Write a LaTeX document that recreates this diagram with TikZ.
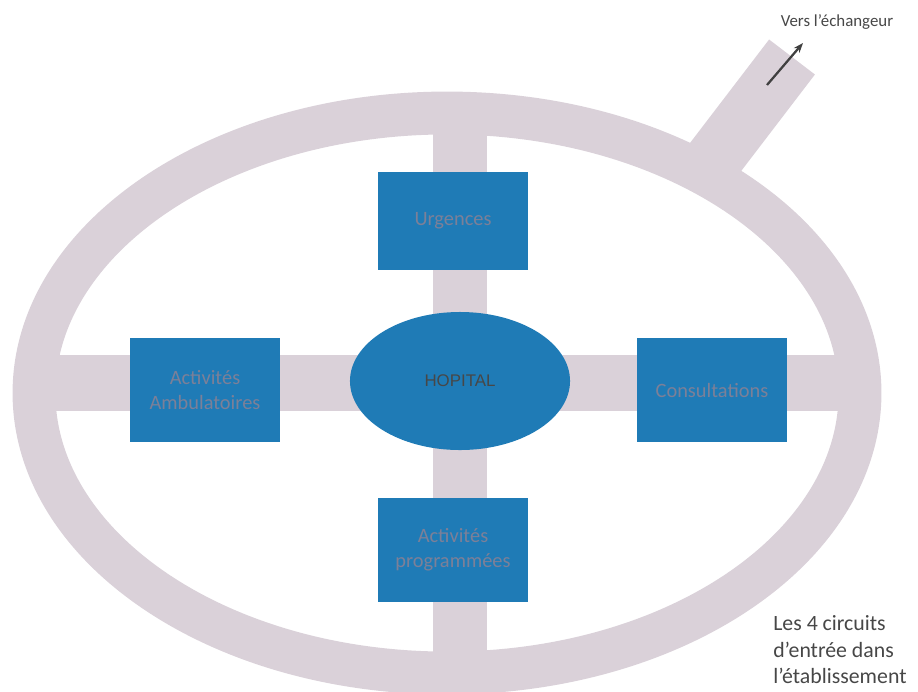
\documentclass[tikz,border=0pt]{standalone}
\usepackage{fontspec}
\setmainfont{Carlito}
\newfontfamily\hopfont{Liberation Sans}
\usetikzlibrary{shapes.geometric, positioning, arrows.meta}
\definecolor{route}{HTML}{DAD1D9}
\definecolor{bleu}{HTML}{1F7BB6}
\definecolor{texteboite}{HTML}{7C8098}
\definecolor{gristexte}{HTML}{474747}
\tikzset{
    chemin/.style={draw=route, line width=#1},
    boite/.style={rectangle, fill=bleu, text=texteboite, align=center,
        minimum width=3.75cm, minimum height=2.6cm, font=\fontsize{14.5}{18}\selectfont},
}

\begin{document}
\begin{tikzpicture}[x=0.025cm, y=-0.025cm]
        \useasboundingbox (0,0) rectangle (918,691);

        % Anneau
        \draw[chemin=30.5pt] (447,393) ellipse [x radius=413, y radius=280];

        % Sortie vers l'echangeur
        \coordinate (S1) at (698,180);
        \coordinate (S2) at (792,57);
        \draw[chemin=41pt] (S1) -- (S2);

        % Axes
        \coordinate (Nord) at (460,113);
        \coordinate (Sud) at (460,673);
        \coordinate (Ouest) at (34,383);
        \coordinate (Est) at (860,383);
        \draw[chemin=39pt] (Nord) -- (Sud);
        \draw[chemin=40pt] (Ouest) -- (Est);

        % Hopital
        \node[ellipse, fill=bleu, inner sep=0pt, minimum width=5.5cm, minimum height=3.45cm,
            text=gristexte, font=\hopfont\fontsize{12}{14}\selectfont] (H) at (460,381) {HOPITAL};

        % Les 4 entrees
        \node[boite, minimum height=2.45cm] (U) at (453,221) {Urgences};
        \node[boite] (AA) at (205,390) {Activités\\Ambulatoires};
        \node[boite] (C) at (712,390) {Consultations};
        \node[boite] (AP) at (453,550) {Activités\\programmées};

        % Fleche
        \coordinate (F1) at (767,85);
        \coordinate (F2) at (803,43);
        \draw[-{Stealth[length=7pt]}, line width=1.6pt, draw=gristexte!90!black] (F1) -- (F2);
        \node[text=gristexte, font=\fontsize{12}{14}\selectfont] (V) at (837,22) {Vers l'échangeur};

        % Legende
        \node[anchor=north west, align=left, inner sep=0pt, text=gristexte,
            font=\fontsize{15.5}{19}\selectfont] (L) at (773,615)
            {Les 4 circuits\\d'entrée dans\\l'établissement};
    \end{tikzpicture}
\end{document}
